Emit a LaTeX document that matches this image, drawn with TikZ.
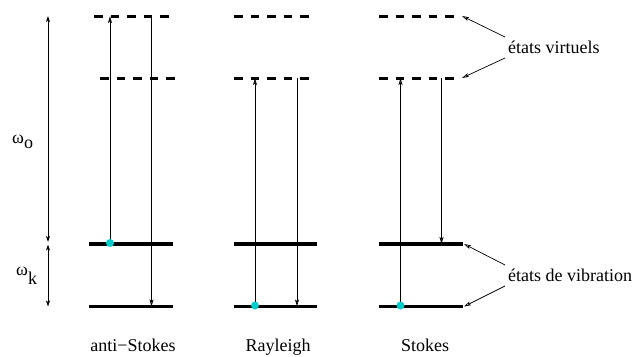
\documentclass[tikz,border=0pt]{standalone}
\usepackage{fontspec}
\setmainfont{Liberation Serif}
\usetikzlibrary{arrows.meta}
\definecolor{dotcyan}{RGB}{0,204,204}
\tikzset{
  level/.style={line width=3.6pt},
  virt/.style={line width=3pt, dash pattern=on 8.5pt off 8pt},
  trans/.style={line width=0.8pt, -{Stealth[length=7pt,width=4pt,inset=1.5pt,open]}},
  axis/.style={line width=0.8pt, {Stealth[length=6pt,width=4pt,inset=1.5pt,open]}-{Stealth[length=6pt,width=4pt,inset=1.5pt,open]}},
  pointer/.style={line width=0.7pt, -{Stealth[length=7pt,width=4pt,inset=1.5pt,open]}},
  lbl/.style={font=\fontsize{18}{20}\selectfont, inner sep=0pt},
  dot/.style={circle, fill=dotcyan, minimum size=8pt, inner sep=0pt}
}
\begin{document}
\begin{tikzpicture}[x=1pt,y=-1pt]
\useasboundingbox (0,0) rectangle (639,356);
% anti-Stokes column
\coordinate (aV1l) at (94,16);   \coordinate (aV1r) at (169,16);
\coordinate (aV2l) at (100,78);  \coordinate (aV2r) at (175,78);
\coordinate (aL1l) at (89,244);  \coordinate (aL1r) at (173,244);
\coordinate (aL0l) at (89,306.5);  \coordinate (aL0r) at (173,306.5);
% Rayleigh column
\coordinate (rV1l) at (234,16);  \coordinate (rV1r) at (309,16);
\coordinate (rV2l) at (234,78);  \coordinate (rV2r) at (309,78);
\coordinate (rL1l) at (234,244); \coordinate (rL1r) at (317,244);
\coordinate (rL0l) at (234,306.5); \coordinate (rL0r) at (317,306.5);
% Stokes column
\coordinate (sV1l) at (379,16);  \coordinate (sV1r) at (455,16);
\coordinate (sV2l) at (379,78);  \coordinate (sV2r) at (455,78);
\coordinate (sL1l) at (379,244); \coordinate (sL1r) at (463,244);
\coordinate (sL0l) at (379,306.5); \coordinate (sL0r) at (463,306.5);

\draw[virt] (aV1l) -- (aV1r);
\draw[virt] (aV2l) -- (aV2r);
\draw[virt] (rV1l) -- (rV1r);
\draw[virt] (rV2l) -- (rV2r);
\draw[virt] (sV1l) -- (sV1r);
\draw[virt] (sV2l) -- (sV2r);
\draw[level] (aL1l) -- (aL1r);
\draw[level] (aL0l) -- (aL0r);
\draw[level] (rL1l) -- (rL1r);
\draw[level] (rL0l) -- (rL0r);
\draw[level] (sL1l) -- (sL1r);
\draw[level] (sL0l) -- (sL0r);

% transition end points
\coordinate (aUpS) at (110,244);   \coordinate (aUpE) at (110,16);
\coordinate (aDnS) at (151.5,16);  \coordinate (aDnE) at (151.5,306.5);
\coordinate (rUpS) at (255,306.5); \coordinate (rUpE) at (255,78);
\coordinate (rDnS) at (297,78);    \coordinate (rDnE) at (297,306.5);
\coordinate (sUpS) at (400.5,306.5); \coordinate (sUpE) at (400.5,78);
\coordinate (sDnS) at (441.5,78);  \coordinate (sDnE) at (441.5,244);

\draw[trans] (aUpS) -- (aUpE);
\draw[trans] (aDnS) -- (aDnE);
\draw[trans] (rUpS) -- (rUpE);
\draw[trans] (rDnS) -- (rDnE);
\draw[trans] (sUpS) -- (sUpE);
\draw[trans] (sDnS) -- (sDnE);

\node[dot] (da) at ([yshift=1pt]aUpS) {};
\node[dot] (dr) at ([yshift=1pt]rUpS) {};
\node[dot] (ds) at ([yshift=1pt]sUpS) {};

% energy axis
\coordinate (ax0) at (48,16);
\coordinate (ax1) at (48,242);
\coordinate (ax2) at (48,244.5);
\coordinate (ax3) at (48,306.5);
\draw[axis] (ax0) -- (ax1);
\draw[axis] (ax2) -- (ax3);
\node[lbl, anchor=base west] (wo) at (12,143) {ω\raisebox{-5pt}{o}};
\node[lbl, anchor=base west] (wk) at (16,275) {ω\raisebox{-9pt}{k}};

% labels
\node[lbl, anchor=base west] (tv) at (508,53) {états virtuels};
\node[lbl, anchor=base west] (tvib) at (508,281) {états de vibration};
\coordinate (pv1) at (505,37);  \coordinate (pv2) at (505,58);
\coordinate (pb1) at (505,265); \coordinate (pb2) at (505,286);
\coordinate (tv1) at (462,16);  \coordinate (tv2) at (462,78);
\coordinate (tb1) at (464,244); \coordinate (tb2) at (464,306.5);
\draw[pointer] (pv1) -- (tv1);
\draw[pointer] (pv2) -- (tv2);
\draw[pointer] (pb1) -- (tb1);
\draw[pointer] (pb2) -- (tb2);

\node[lbl, anchor=base] (nas) at (133,351) {anti−Stokes};
\node[lbl, anchor=base] (nr) at (278,351) {Rayleigh};
\node[lbl, anchor=base] (ns) at (425,351) {Stokes};
\end{tikzpicture}
\end{document}
